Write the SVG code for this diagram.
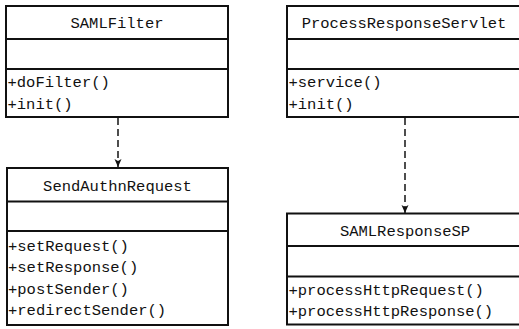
<svg xmlns="http://www.w3.org/2000/svg" width="519" height="329" viewBox="0 0 519 329">
<style>
.box{fill:#fff;stroke:#111;stroke-width:2}
.sep{stroke:#111;stroke-width:2}
.t{font-family:"Liberation Mono","DejaVu Sans Mono",monospace;font-size:15.5px;fill:#111}
.c{text-anchor:middle}
.conn{stroke:#222;stroke-width:1.6;stroke-dasharray:7 4;fill:none}
</style>
<defs>
<marker id="arr" markerUnits="userSpaceOnUse" markerWidth="10" markerHeight="10" refX="8" refY="4" orient="auto">
<path d="M0,0.5 L8,4 L0,7.5 L2,4 z" fill="#111"/>
</marker>
</defs>
<rect width="519" height="329" fill="#fff"/>
<g id="connectors">
<line class="conn" x1="118" y1="118" x2="118" y2="167" marker-end="url(#arr)"/>
<line class="conn" x1="405" y1="118" x2="405" y2="213" marker-end="url(#arr)"/>
</g>
<g id="SAMLFilter">
<rect class="box" x="6" y="6" width="222" height="111"/>
<line class="sep" x1="6" y1="39" x2="228" y2="39"/>
<line class="sep" x1="6" y1="69" x2="228" y2="69"/>
<text class="t c" x="117" y="28">SAMLFilter</text>
<text class="t" x="7.5" y="87">+doFilter()</text>
<text class="t" x="7.5" y="108.5">+init()</text>
</g>
<g id="SendAuthnRequest">
<rect class="box" x="7" y="168" width="221" height="157"/>
<line class="sep" x1="7" y1="201.5" x2="228" y2="201.5"/>
<line class="sep" x1="7" y1="231" x2="228" y2="231"/>
<text class="t c" x="117.5" y="191">SendAuthnRequest</text>
<text class="t" x="8" y="250.5">+setRequest()</text>
<text class="t" x="8" y="272">+setResponse()</text>
<text class="t" x="8" y="293.5">+postSender()</text>
<text class="t" x="8" y="315">+redirectSender()</text>
</g>
<g id="ProcessResponseServlet">
<rect class="box" x="287" y="6" width="236" height="111"/>
<line class="sep" x1="287" y1="39" x2="523" y2="39"/>
<line class="sep" x1="287" y1="69" x2="523" y2="69"/>
<text class="t c" x="404" y="28">ProcessResponseServlet</text>
<text class="t" x="288.5" y="87">+service()</text>
<text class="t" x="288.5" y="108.5">+init()</text>
</g>
<g id="SAMLResponseSP">
<rect class="box" x="287" y="213.5" width="236" height="111"/>
<line class="sep" x1="287" y1="246" x2="523" y2="246"/>
<line class="sep" x1="287" y1="276.5" x2="523" y2="276.5"/>
<text class="t c" x="405" y="236">SAMLResponseSP</text>
<text class="t" x="288.5" y="294.5">+processHttpRequest()</text>
<text class="t" x="288.5" y="316">+processHttpResponse()</text>
</g>
</svg>
